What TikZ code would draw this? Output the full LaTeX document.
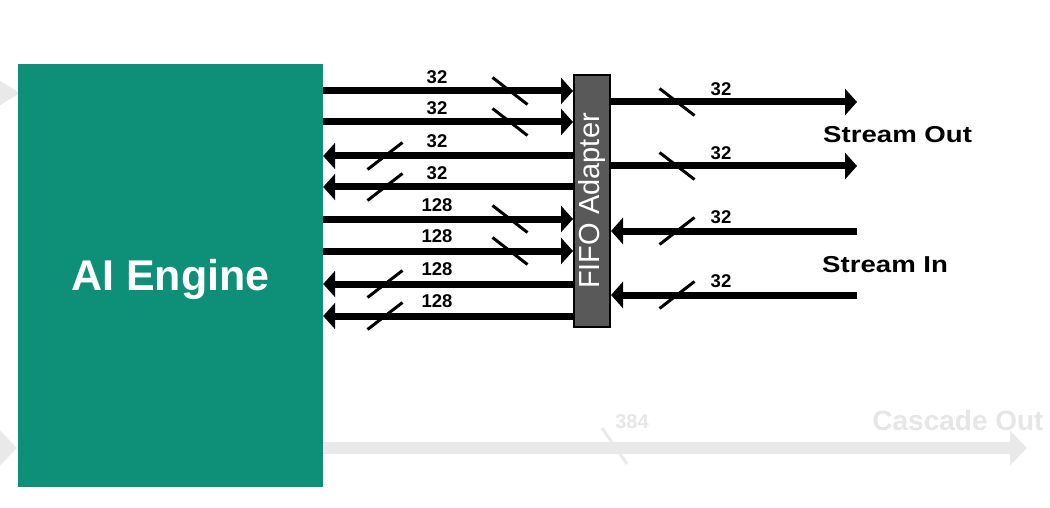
\documentclass[tikz,border=0pt]{standalone}
\usepackage{fontspec}
\setmainfont{Liberation Sans}
\usetikzlibrary{arrows.meta}
\definecolor{aegreen}{RGB}{14,143,119}
\definecolor{fifogray}{RGB}{89,89,89}
\definecolor{ghost}{RGB}{233,233,233}
\definecolor{ghosttext}{RGB}{230,230,230}
\tikzset{
  bus/.style={line width=7pt, -{Triangle[length=12pt,width=26pt]}},
  ghostbus/.style={ghost, line width=12pt, -{Triangle[length=17pt,width=34pt]}},
  slash/.style={line width=3pt},
  ghostslash/.style={ghost, line width=3pt},
  widthlbl/.style={inner sep=0pt, anchor=base, font=\bfseries\fontsize{18.5}{20}\selectfont},
  portlbl/.style={inner sep=0pt, anchor=base west, xscale=1.2, font=\bfseries\fontsize{23}{26}\selectfont},
}
\begin{document}
\begin{tikzpicture}[x=1pt,y=-1pt]
\useasboundingbox (0,0) rectangle (1050,508);
\clip (0,0) rectangle (1050,508);
% incoming ghost arrows on the left
\coordinate (gl1s) at (-30,93);
\coordinate (gl1e) at (20,93);
\coordinate (gl2s) at (-40,448);
\coordinate (gl2e) at (17,448);
\draw[ghost, line width=8pt, -{Triangle[length=20pt,width=23pt]}] (gl1s) -- (gl1e);
\draw[ghostbus] (gl2s) -- (gl2e);
% blocks
\node[fill=aegreen, minimum width=305pt, minimum height=423pt, inner sep=0pt] (ae) at (170.5,275.5) {};
\node[anchor=base, inner sep=0pt, text=white, font=\bfseries\fontsize{43}{48}\selectfont] (aetxt) at (170.5,290) {AI Engine};
\node[fill=fifogray, draw=black, line width=2pt, minimum width=36pt, minimum height=252pt, inner sep=0pt] (fifo) at (592,201) {};
\node[rotate=90, text=white, inner sep=0pt, font=\fontsize{29}{32}\selectfont] (fifotxt) at (fifo.center) {FIFO Adapter};
% row coordinates
\coordinate (r1) at (0,91);
\coordinate (r2) at (0,122);
\coordinate (r3) at (0,156);
\coordinate (r4) at (0,187);
\coordinate (r5) at (0,219);
\coordinate (r6) at (0,251);
\coordinate (r7) at (0,284);
\coordinate (r8) at (0,316);
% AI engine <-> FIFO buses
\draw[bus] (ae.east |- r1) -- (fifo.west |- r1);
\draw[bus] (ae.east |- r2) -- (fifo.west |- r2);
\draw[bus] (fifo.west |- r3) -- (ae.east |- r3);
\draw[bus] (fifo.west |- r4) -- (ae.east |- r4);
\draw[bus] (ae.east |- r5) -- (fifo.west |- r5);
\draw[bus] (ae.east |- r6) -- (fifo.west |- r6);
\draw[bus] (fifo.west |- r7) -- (ae.east |- r7);
\draw[bus] (fifo.west |- r8) -- (ae.east |- r8);
% slashes
\foreach \y in {91,122,219,251} {
  \draw[slash] (492.5,\y-13.5) -- (527.5,\y+13.5);
}
\foreach \y in {156,187,284,316} {
  \draw[slash] (367.5,\y+13.5) -- (402.5,\y-13.5);
}
% width labels
\node[widthlbl] (l1) at (437,83.5) {32};
\node[widthlbl] (l2) at (437,114.5) {32};
\node[widthlbl] (l3) at (437,147.5) {32};
\node[widthlbl] (l4) at (437,179.5) {32};
\node[widthlbl] (l5) at (437,211.5) {128};
\node[widthlbl] (l6) at (437,242.5) {128};
\node[widthlbl] (l7) at (437,275.5) {128};
\node[widthlbl] (l8) at (437,307.5) {128};
% stream ports
\coordinate (so1) at (857,102);
\coordinate (so2) at (857,166);
\coordinate (si1) at (857,231);
\coordinate (si2) at (857,295);
\draw[bus] (fifo.east |- so1) -- (so1);
\draw[bus] (fifo.east |- so2) -- (so2);
\draw[bus] (si1) -- (fifo.east |- si1);
\draw[bus] (si2) -- (fifo.east |- si2);
\draw[slash] (659.5,88.5) -- (694.5,115.5);
\draw[slash] (659.5,152.5) -- (694.5,179.5);
\draw[slash] (659.5,244.5) -- (694.5,217.5);
\draw[slash] (659.5,308.5) -- (694.5,281.5);
\node[widthlbl] (s1) at (721,95.5) {32};
\node[widthlbl] (s2) at (721,159.5) {32};
\node[widthlbl] (s3) at (721,223.5) {32};
\node[widthlbl] (s4) at (721,287.5) {32};
\node[portlbl] (sout) at (823,143) {Stream Out};
\node[portlbl] (sin) at (822,272) {Stream In};
% cascade (ghosted)
\coordinate (co) at (1027,448);
\draw[ghostbus] (ae.east |- co) -- (co);
\draw[ghostslash] (602,428) -- (627,464);
\node[inner sep=0pt, anchor=base, text=ghosttext, font=\bfseries\fontsize{20}{22}\selectfont] (c384) at (632,428) {384};
\node[inner sep=0pt, anchor=base, text=ghosttext, font=\bfseries\fontsize{28}{30}\selectfont] (cout) at (958,430) {Cascade Out};
\end{tikzpicture}
\end{document}
